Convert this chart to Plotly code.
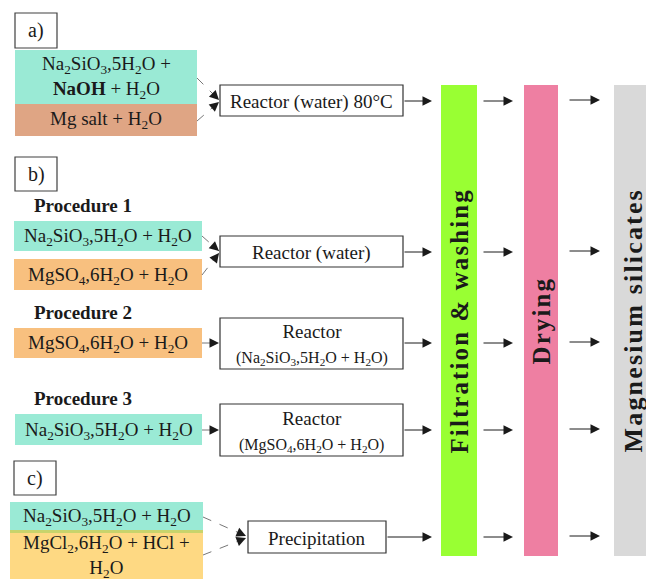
import plotly.graph_objects as go

W, H = 646, 579
FONT = "Liberation Serif"
TXT = "#1a1a1a"

# ---- text content ----
panel_labels = ["a)", "b)", "c)"]
procedure_labels = ["<b>Procedure 1</b>", "<b>Procedure 2</b>", "<b>Procedure 3</b>"]
reagent_labels = [
    "Na<sub>2</sub>SiO<sub>3</sub>,5H<sub>2</sub>O +<br><b>NaOH</b> + H<sub>2</sub>O",
    "Mg salt + H<sub>2</sub>O",
    "Na<sub>2</sub>SiO<sub>3</sub>,5H<sub>2</sub>O + H<sub>2</sub>O",
    "MgSO<sub>4</sub>,6H<sub>2</sub>O + H<sub>2</sub>O",
    "MgSO<sub>4</sub>,6H<sub>2</sub>O + H<sub>2</sub>O",
    "Na<sub>2</sub>SiO<sub>3</sub>,5H<sub>2</sub>O + H<sub>2</sub>O",
    "Na<sub>2</sub>SiO<sub>3</sub>,5H<sub>2</sub>O + H<sub>2</sub>O",
    "MgCl<sub>2</sub>,6H<sub>2</sub>O + HCl +<br>H<sub>2</sub>O",
]
reactor_labels = [
    "Reactor (water) 80°C",
    "Reactor (water)",
    "Reactor<br><span style='font-size:16px'>(Na<sub>2</sub>SiO<sub>3</sub>,5H<sub>2</sub>O + H<sub>2</sub>O)</span>",
    "Reactor<br><span style='font-size:16px'>(MgSO<sub>4</sub>,6H<sub>2</sub>O + H<sub>2</sub>O)</span>",
    "Precipitation",
]
stage_labels = ["Filtration & washing", "Drying", "Magnesium silicates"]

# ---- layout geometry (page pixels, y downward) ----
panel_boxes = [(15, 13, 57, 48), (15, 157, 57, 191), (14, 461, 56, 495)]
proc_pos = [(83, 205), (83, 312), (83, 398)]
reagent_boxes = [
    (15, 50, 197, 104, "#9AEAD5"),
    (15, 104, 197, 136, "#DFA584"),
    (14, 221, 202, 251, "#9AEAD5"),
    (14, 259, 202, 290, "#F8C07F"),
    (14, 328, 202, 358, "#F8C07F"),
    (15, 414, 202, 445, "#9AEAD5"),
    (10, 502, 203, 530, "#9AEAD5"),
    (10, 533, 203, 581, "#FED983"),
]
reagent_text_dy = [0, 0, 1, 1, 1, 1, 1, 0]
reactor_boxes = [
    (220, 85, 403, 116),
    (220, 236, 403, 267),
    (220, 318, 403, 369),
    (220, 404, 403, 456),
    (248, 521, 386, 553),
]
flow_y = [101, 252, 343, 430, 537]
bars = [(441, 85, 477, 556, "#99FF33"), (524, 85, 558, 556, "#EE7FA2"), (614, 85, 652, 556, "#D9D9D9")]
stage_font = [25, 25, 26]
feeds = [
    (197, 78, 219, 100), (197, 121, 219, 102),
    (202, 236, 219, 251), (202, 275, 219, 253),
    (202, 343, 219, 343),
    (202, 430, 219, 430),
    (203, 517, 246, 536), (203, 555, 246, 538),
]

shapes, ann = [], []

def rect(x0, y0, x1, y1, fill, line=None, lw=1.2):
    shapes.append(dict(type="rect", xref="x", yref="y", x0=x0, y0=y0, x1=x1, y1=y1,
                       fillcolor=fill, line=dict(color=line or "rgba(0,0,0,0)", width=lw if line else 0),
                       layer="below"))

def text(x, y, s, size=19, angle=0):
    ann.append(dict(x=x, y=y, xref="x", yref="y", text=s, showarrow=False, textangle=angle,
                    font=dict(family=FONT, size=size, color=TXT), align="center"))

def arrow(x0, y0, x1, y1, color="#1a1a1a", width=1, size=1.9):
    ann.append(dict(x=x1, y=y1, ax=x0, ay=y0, xref="x", yref="y", axref="x", ayref="y",
                    text="", showarrow=True, arrowhead=2, arrowsize=size, arrowwidth=width,
                    arrowcolor=color))

# bars
for (x0, y0, x1, y1, c), s, fs in zip(bars, stage_labels, stage_font):
    rect(x0, y0, x1, y1, c)
    spaced = "\u200a".join(s)
    text((x0 + min(x1, 652)) / 2, (y0 + y1) / 2 + 1, "<b>" + spaced + "</b>", size=fs, angle=-90)

# panels
for (x0, y0, x1, y1), s in zip(panel_boxes, panel_labels):
    rect(x0, y0, x1, y1, "white", "#404040", 1.2)
    text((x0 + x1) / 2, (y0 + y1) / 2, s, size=20)

# procedures
for (x, y), s in zip(proc_pos, procedure_labels):
    text(x, y, s, size=19)

# reagents
for (x0, y0, x1, y1, c), s, dy in zip(reagent_boxes, reagent_labels, reagent_text_dy):
    rect(x0, y0, x1, y1, c)
    yc = (y0 + min(y1, 579)) / 2
    text((x0 + x1) / 2, yc + dy, s, size=19)
rect(10, 530, 203, 533, "#C8D46C")

# reactors
for (x0, y0, x1, y1), s in zip(reactor_boxes, reactor_labels):
    rect(x0, y0, x1, y1, "white", "#333333", 1.2)
    text((x0 + x1) / 2, (y0 + y1) / 2 + 1, s, size=19)

# dashed feeds
for (x0, y0, x1, y1) in feeds:
    shapes.append(dict(type="line", xref="x", yref="y", x0=x0, y0=y0, x1=x1, y1=y1,
                       line=dict(color="#777777", width=1, dash="dash")))
    dx, dy = x1 - x0, y1 - y0
    L = (dx * dx + dy * dy) ** 0.5
    arrow(x1 - 6 * dx / L, y1 - 6 * dy / L, x1, y1)

# flow arrows
for i, y in enumerate(flow_y):
    xs = reactor_boxes[i][2]
    arrow(xs, y, 432, y)
    arrow(482, y, 513, y)
    arrow(568, y - 1, 600, y - 1)

fig = go.Figure()
fig.update_layout(
    width=W, height=H, margin=dict(l=0, r=0, t=0, b=0),
    paper_bgcolor="white", plot_bgcolor="white",
    xaxis=dict(range=[0, W], visible=False, fixedrange=True),
    yaxis=dict(range=[H, 0], visible=False, fixedrange=True),
    shapes=shapes, annotations=ann, showlegend=False,
)
fig.write_html(
    "out.html",
    config={"displayModeBar": False},
    post_script="document.body.style.margin='0';document.documentElement.style.overflow='hidden';document.body.style.overflow='hidden';",
)
